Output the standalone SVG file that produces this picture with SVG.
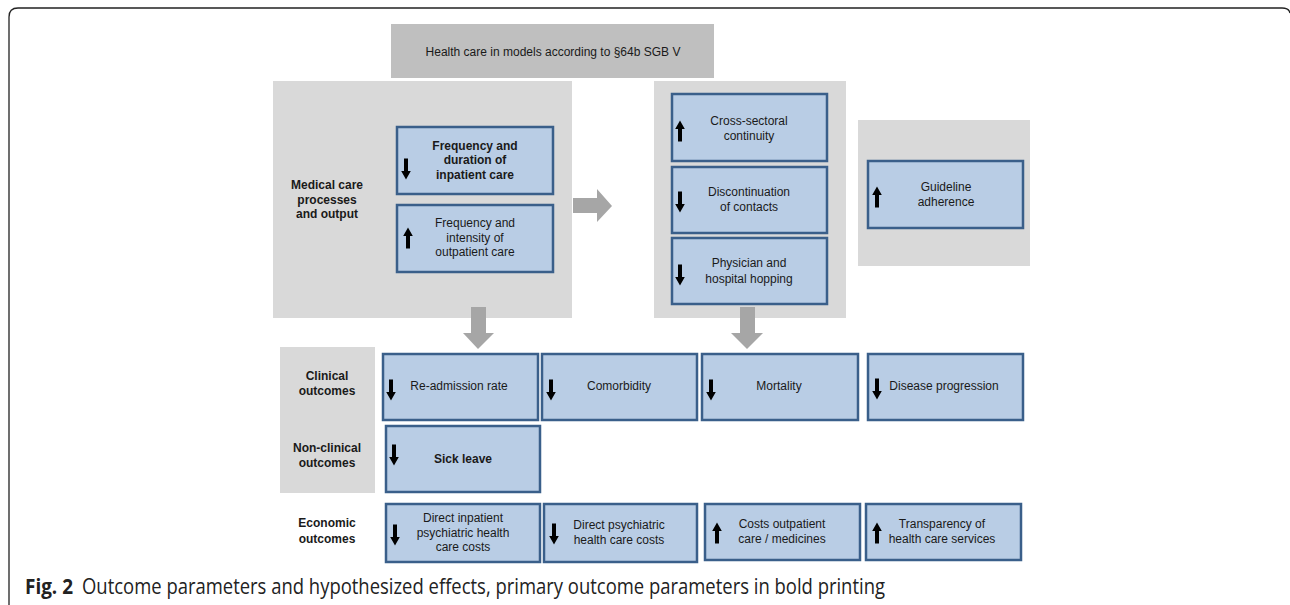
<svg xmlns="http://www.w3.org/2000/svg" width="1290" height="605" viewBox="0 0 1290 605">
<style>
.panel{fill:#d9d9d9}
.hdr{fill:#bfbfbf}
.box{fill:#b9cde5;stroke:#3a5f8a;stroke-width:2.5}
.t{font-family:"Liberation Sans",Arial,sans-serif;font-size:12px;fill:#1a1a1a;text-anchor:middle}
.b{font-weight:bold}
.blk{fill:#a6a6a6}
.cap{font-family:"Open Sans","Noto Sans",sans-serif;font-size:21px;fill:#222}
</style>
<defs>
<path id="dn" d="M-2,-10.5 h4 v12.5 h2.8 l-4.8,8.5 l-4.8,-8.5 h2.8 z" fill="#000"/>
<path id="up" d="M-2,10.5 h4 v-12.5 h2.8 l-4.8,-8.5 l-4.8,8.5 h2.8 z" fill="#000"/>
</defs>
<path d="M9,605 V17 Q9,8 18,8 H1282 Q1289,8 1290,13" fill="none" stroke="#222" stroke-width="1.3"/>

<g id="header">
<rect class="hdr" x="391" y="24" width="323" height="54"/>
<text class="t" x="553" y="56">Health care in models according to §64b SGB V</text>
</g>

<g id="panel-medical">
<rect class="panel" x="273" y="81" width="299" height="237"/>
<text class="t b" x="327" y="189">Medical care</text>
<text class="t b" x="327" y="204">processes</text>
<text class="t b" x="327" y="218">and output</text>
</g>
<g id="panel-mid"><rect class="panel" x="654" y="81" width="192" height="237"/></g>
<g id="panel-right"><rect class="panel" x="858" y="120" width="172" height="146"/></g>
<g id="panel-outcomes">
<rect class="panel" x="280" y="347" width="95" height="146"/>
<text class="t b" x="327" y="380">Clinical</text>
<text class="t b" x="327" y="395">outcomes</text>
<text class="t b" x="327" y="452">Non-clinical</text>
<text class="t b" x="327" y="467">outcomes</text>
</g>
<g id="label-economic">
<text class="t b" x="327" y="527">Economic</text>
<text class="t b" x="327" y="543">outcomes</text>
</g>

<g id="connectors">
<path class="blk" d="M573,198 H597 V189 L612,206 L597,222 V213 H573 Z"/>
<path class="blk" d="M471,307 H486 V333 H494 L478,349 L463,333 H471 Z"/>
<path class="blk" d="M740,307 H755 V333 H763 L747,349 L731,333 H740 Z"/>
</g>

<g id="n-inpatient">
<rect class="box" x="397" y="127" width="156" height="67"/>
<use href="#dn" x="406" y="169"/>
<text class="t b" x="475" y="150">Frequency and</text>
<text class="t b" x="475" y="164">duration of</text>
<text class="t b" x="475" y="179">inpatient care</text>
</g>
<g id="n-outpatient">
<rect class="box" x="397" y="205" width="156" height="67"/>
<use href="#up" x="408" y="238"/>
<text class="t" x="475" y="227">Frequency and</text>
<text class="t" x="475" y="242">intensity of</text>
<text class="t" x="475" y="256">outpatient care</text>
</g>
<g id="n-continuity">
<rect class="box" x="672" y="94" width="155" height="67"/>
<use href="#up" x="680" y="131"/>
<text class="t" x="749" y="125">Cross-sectoral</text>
<text class="t" x="749" y="140">continuity</text>
</g>
<g id="n-discontinuation">
<rect class="box" x="672" y="167" width="155" height="66"/>
<use href="#dn" x="680" y="202"/>
<text class="t" x="749" y="196">Discontinuation</text>
<text class="t" x="749" y="211">of contacts</text>
</g>
<g id="n-hopping">
<rect class="box" x="672" y="238" width="155" height="66"/>
<use href="#dn" x="680" y="275"/>
<text class="t" x="749" y="267">Physician and</text>
<text class="t" x="749" y="283">hospital hopping</text>
</g>
<g id="n-guideline">
<rect class="box" x="868" y="161" width="155" height="67"/>
<use href="#up" x="877" y="197"/>
<text class="t" x="946" y="191">Guideline</text>
<text class="t" x="946" y="206">adherence</text>
</g>

<g id="n-readmission">
<rect class="box" x="383" y="354" width="155" height="66"/>
<use href="#dn" x="391" y="390"/>
<text class="t" x="459" y="390">Re-admission rate</text>
</g>
<g id="n-comorbidity">
<rect class="box" x="542" y="354" width="155" height="66"/>
<use href="#dn" x="551" y="390"/>
<text class="t" x="619" y="390">Comorbidity</text>
</g>
<g id="n-mortality">
<rect class="box" x="702" y="354" width="156" height="66"/>
<use href="#dn" x="711" y="390"/>
<text class="t" x="779" y="390">Mortality</text>
</g>
<g id="n-disease">
<rect class="box" x="868" y="354" width="155" height="66"/>
<use href="#dn" x="877" y="389"/>
<text class="t" x="944" y="390">Disease progression</text>
</g>
<g id="n-sickleave">
<rect class="box" x="386" y="426" width="154" height="66"/>
<use href="#dn" x="394" y="455"/>
<text class="t b" x="463" y="463">Sick leave</text>
</g>

<g id="n-direct-inpatient">
<rect class="box" x="386" y="504" width="154" height="58"/>
<use href="#dn" x="395" y="535"/>
<text class="t" x="463" y="522">Direct inpatient</text>
<text class="t" x="463" y="537">psychiatric health</text>
<text class="t" x="463" y="551">care costs</text>
</g>
<g id="n-direct-psych">
<rect class="box" x="544" y="504" width="153" height="58"/>
<use href="#dn" x="554" y="534"/>
<text class="t" x="619" y="529">Direct psychiatric</text>
<text class="t" x="619" y="544">health care costs</text>
</g>
<g id="n-costs-outpatient">
<rect class="box" x="705" y="504" width="155" height="56"/>
<use href="#up" x="717" y="533"/>
<text class="t" x="782" y="528">Costs outpatient</text>
<text class="t" x="782" y="543">care / medicines</text>
</g>
<g id="n-transparency">
<rect class="box" x="866" y="504" width="155" height="56"/>
<use href="#up" x="877" y="533"/>
<text class="t" x="942" y="528">Transparency of</text>
<text class="t" x="942" y="543">health care services</text>
</g>

<text class="cap" x="25" y="594" font-weight="bold" textLength="48" lengthAdjust="spacingAndGlyphs">Fig. 2</text>
<text class="cap" x="82" y="594" textLength="803" lengthAdjust="spacingAndGlyphs">Outcome parameters and hypothesized effects, primary outcome parameters in bold printing</text>
</svg>
